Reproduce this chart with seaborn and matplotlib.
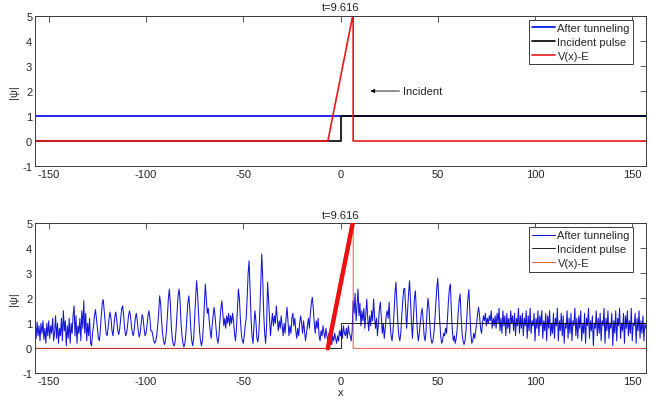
import numpy as np
import pandas as pd
import matplotlib
matplotlib.use("Agg")
import matplotlib.pyplot as plt
import seaborn as sns

# ---------------- data ----------------
title_text = "t=9.616"
x_ticks = [-150, -100, -50, 0, 50, 100, 150]
y_ticks = [-1, 0, 1, 2, 3, 4, 5]
x_lim = (-157.08, 157.08)
y_lim = (-1, 5)
series_labels = ["After tunneling", "Incident pulse", "V(x)-E"]

# top panel
top_after_x = [-157.08, 157.08]
top_after_y = [1, 1]
incident_x = [-157.08, 0, 0, 157.08]
incident_y = [0, 0, 1, 1]
potential_x = [-157.08, -6.5, 6.5, 6.5, 157.08]
potential_y = [0, 0, 5.1, 0, 0]
ramp_x = [-6.5, 6.5]
ramp_y = [0, 5.1]
annot_text = "Incident"
annot_head = (15.4, 2.0)
annot_tail = (32.0, 2.0)

# bottom panel: |psi| sampled every 0.5 from x = -157
wave_start = -157.0
wave_step = 0.5
wave_psi = [
    1.0, 0.4, 1.05, 0.5, 0.9, 0.3, 1.0, 0.6, 1.1, 0.35, 0.8, 0.2, 1.0, 0.5, 1.1, 0.4, 0.9, 0.6, 1.2, 0.3,
    0.6, 1.3, 0.4, 1.0, 0.2, 0.8, 0.5, 1.2, 0.3, 1.5, 0.7, 1.1, 0.1, 0.9, 0.4, 1.2, 0.2, 1.0, 0.6, 1.3,
    1.7, 0.5, 1.3, 0.2, 0.9, 0.6, 1.2, 0.3, 1.5, 0.8, 1.9, 0.6, 1.4, 0.3, 1.0, 0.5, 1.2, 0.2, 0.1, 0.6,
    0.9, 1.3, 1.55, 1.2, 0.8, 0.4, 0.3, 0.7, 1.3, 1.8, 1.95, 1.5, 1.0, 0.6, 0.5, 0.8, 1.2, 1.45, 1.2, 0.7,
    0.5, 0.9, 1.3, 1.45, 1.1, 0.7, 0.55, 0.8, 1.2, 1.6, 1.7, 1.3, 0.8, 0.5, 0.6, 0.9, 1.3, 1.5, 1.3, 0.9,
    0.6, 0.5, 0.8, 1.2, 1.4, 1.1, 0.7, 0.45, 0.6, 1.0, 1.35, 1.2, 0.8, 0.5, 0.6, 0.9, 1.3, 1.5, 1.2, 0.7,
    0.7, 0.5, 0.3, 0.2, 0.3, 0.5, 0.9, 1.4, 2.1, 1.8, 1.1, 0.6, 0.3, 0.15, 0.3, 0.7, 1.3, 2.0, 2.37, 1.8,
    0.9, 0.4, 0.15, 0.1, 0.3, 0.8, 1.5, 2.1, 2.37, 1.9, 1.0, 0.5, 0.2, 0.05, 0.2, 0.6, 1.2, 1.8, 2.1, 1.6,
    0.8, 0.3, 0.1, 0.4, 1.2, 2.0, 2.7, 2.2, 1.4, 0.7, 0.3, 0.1, 0.3, 0.9, 1.7, 2.57, 2.0, 1.4, 1.6, 1.1,
    0.7, 0.4, 0.9, 1.3, 1.64, 1.3, 0.8, 0.4, 0.2, 0.5, 1.1, 1.6, 1.9, 1.4, 0.9, 1.2, 0.8, 1.3, 1.0, 1.4,
    0.9, 1.3, 1.0, 1.4, 1.1, 0.6, 0.3, 0.8, 1.6, 2.37, 2.0, 1.2, 0.6, 0.3, 0.2, 0.5, 0.9, 1.2, 2.0, 3.0,
    3.5, 2.4, 1.2, 0.5, 0.2, 0.9, 1.5, 1.1, 0.4, 0.25, 0.6, 1.4, 2.6, 3.77, 2.8, 1.4, 0.6, 0.2, 0.9, 2.64,
    2.0, 1.2, 0.5, 1.0, 1.4, 0.9, 1.3, 1.0, 1.7, 1.2, 0.7, 1.1, 0.8, 1.3, 0.9, 0.5, 1.0, 0.6, 1.2, 1.64,
    1.1, 0.5, 0.9, 0.6, 1.2, 1.4, 0.9, 1.2, 0.7, 0.4, 0.8, 0.5, 1.0, 1.3, 1.0, 0.6, 1.1, 0.7, 0.3, 0.6,
    0.9, 1.2, 0.8, 1.4, 1.8, 2.04, 1.6, 1.0, 0.6, 1.1, 0.8, 1.2, 0.5, 0.3, 0.7, 0.5, 0.9, 0.6, 0.4, 0.8,
    0.5, 0.3, 0.6, 0.25, 0.4, 0.15, 0.5, 0.3, 0.6, 0.4, 0.2, 0.5, 0.3, 0.7, 0.5, 0.8, 0.4, 0.9, 0.6, 0.5,
    0.8, 0.4, 0.9, 0.6, 0.5, 0.3, 0.7, 1.9, 1.4, 2.2, 1.1, 1.7, 2.37, 1.3, 1.8, 0.9, 1.5, 1.1, 1.6, 0.8,
    1.4, 1.97, 1.2, 0.7, 1.3, 0.9, 1.5, 1.1, 1.97, 1.3, 0.8, 1.2, 0.5, 1.0, 1.6, 1.84, 1.2, 0.6, 1.0, 0.4,
    0.8, 1.3, 1.5, 1.2, 1.84, 1.0, 0.5, 0.3, 0.7, 1.4, 2.2, 2.64, 1.8, 1.0, 0.5, 0.3, 0.6, 1.3, 1.9, 2.37,
    2.4, 1.6, 0.8, 1.5, 2.2, 2.7, 1.9, 1.0, 0.4, 1.2, 2.0, 2.3, 1.5, 0.7, 0.3, 0.6, 1.0, 1.4, 1.6, 1.1,
    0.5, 0.3, 0.7, 1.5, 2.0, 1.6, 0.9, 0.4, 0.2, 0.3, 0.6, 1.1, 1.8, 2.4, 2.8, 2.0, 1.1, 0.5, 0.2, 0.3,
    0.6, 0.5, 0.8, 0.6, 1.2, 1.9, 2.4, 2.57, 1.5, 0.7, 0.3, 0.5, 0.2, 0.4, 0.8, 1.4, 1.9, 2.17, 1.3, 0.6,
    0.3, 0.15, 0.3, 0.7, 1.3, 2.0, 2.35, 1.5, 0.6, 0.2, 0.3, 0.6, 0.4, 0.7, 1.0, 1.4, 1.64, 1.3, 0.8, 0.6,
    1.0, 1.3, 1.1, 1.4, 0.9, 1.2, 1.0, 1.3, 1.1, 1.5, 0.8, 1.2, 0.9, 1.3, 0.8, 1.4, 1.0, 1.6, 0.7, 1.2,
    0.6, 1.5, 0.9, 1.3, 0.5, 1.4, 0.8, 1.2, 0.6, 1.5, 1.0, 1.3, 0.7, 1.4, 0.5, 1.2, 0.9, 1.6, 0.6, 1.3,
    0.8, 1.4, 0.5, 1.2, 0.9, 1.5, 0.4, 1.3, 0.7, 1.6, 0.6, 1.1, 0.9, 1.4, 0.3, 1.2, 0.8, 1.5, 0.5, 1.3,
    0.9, 1.5, 0.4, 1.1, 0.7, 1.4, 0.3, 1.3, 0.8, 1.5, 0.5, 1.0, 0.6, 1.4, 0.4, 1.2, 0.9, 1.6, 0.3, 1.1,
    0.7, 1.4, 0.5, 1.3, 0.2, 1.0, 0.8, 1.5, 0.4, 1.2, 0.6, 1.4, 0.3, 1.1, 0.9, 1.6, 0.5, 1.2, 0.4, 1.3,
    0.8, 1.5, 0.3, 1.0, 0.6, 1.4, 0.2, 1.2, 0.9, 1.6, 0.4, 1.1, 0.7, 1.3, 0.1, 1.0, 0.8, 1.5, 0.5, 1.2,
    0.6, 1.4, 0.3, 1.1, 0.9, 1.6, 0.2, 1.2, 0.7, 1.5, 0.4, 1.0, 0.8, 1.4, 0.1, 1.1, 0.6, 1.5, 0.3, 1.2,
    0.9, 1.6, 0.4, 1.0, 0.7, 1.4, 0.2, 1.3, 0.8, 1.5, 0.5, 1.1, 0.6, 1.6, 0.3, 1.0, 0.9, 1.4, 0.2, 1.2,
    0.7, 1.5, 0.4, 1.1, 0.6, 1.3, 0.3, 1.0, 0.8,
]
wave_x = wave_start + wave_step * np.arange(len(wave_psi))

# ---------------- style ----------------
sns.set_style("white")
plt.rcParams["font.family"] = ["Liberation Sans", "DejaVu Sans"]
plt.rcParams["axes.unicode_minus"] = False
FS = 8
EDGE = "#3a3a3a"

fig = plt.figure(figsize=(6.53, 4.02), dpi=100)
ax_top = fig.add_axes([0.0536, 0.5846, 0.9357, 0.3731])
ax_bot = fig.add_axes([0.0536, 0.0689, 0.9357, 0.3731])


def line(ax, x, y, color, lw, label=None, zorder=2):
    df = pd.DataFrame({"x": x, "y": y})
    sns.lineplot(data=df, x="x", y="y", ax=ax, estimator=None, sort=False,
                 color=color, lw=lw, label=label, zorder=zorder, legend=False)


# top
line(ax_top, top_after_x, top_after_y, "#0000ee", 1.2, series_labels[0])
line(ax_top, incident_x, incident_y, "black", 1.2, series_labels[1])
line(ax_top, potential_x, potential_y, "#e8191e", 1.2, series_labels[2])
ax_top.annotate(annot_text, xy=annot_head, xytext=annot_tail,
                fontsize=FS, va="center", ha="left",
                arrowprops=dict(arrowstyle="-|>", color="black", lw=0.6,
                                mutation_scale=6, shrinkA=0, shrinkB=0))

# bottom
line(ax_bot, wave_x, wave_psi, "#1515d8", 0.75, series_labels[0])
line(ax_bot, incident_x, incident_y, "black", 0.6, series_labels[1])
line(ax_bot, potential_x, potential_y, "#e0402a", 0.6, series_labels[2])
line(ax_bot, ramp_x, ramp_y, "#ee1010", 3.2, None, zorder=3)

for ax in (ax_top, ax_bot):
    ax.set_xlim(*x_lim)
    ax.set_ylim(*y_lim)
    ax.set_xticks(x_ticks)
    ax.set_yticks(y_ticks)
    ax.set_title(title_text, fontsize=FS, pad=4)
    ax.set_ylabel("|\u03c8|", fontsize=FS, labelpad=2)
    ax.set_xlabel("")
    ax.tick_params(direction="in", top=True, right=True, length=4, width=0.6,
                   labelsize=FS, color=EDGE, pad=2)
    for s in ax.spines.values():
        s.set_color(EDGE)
        s.set_linewidth(0.7)
    h, l = ax.get_legend_handles_labels()
    leg = ax.legend(h, l, loc="upper right", bbox_to_anchor=(0.979, 0.975),
                    borderaxespad=0, fontsize=FS, fancybox=False, framealpha=1,
                    edgecolor=EDGE, handlelength=2.1, handletextpad=0.2,
                    labelspacing=0.35, borderpad=0.3)
    leg.get_frame().set_linewidth(0.7)

ax_bot.set_xlabel("x", fontsize=FS, labelpad=1)

fig.savefig("out.png", dpi=100)
